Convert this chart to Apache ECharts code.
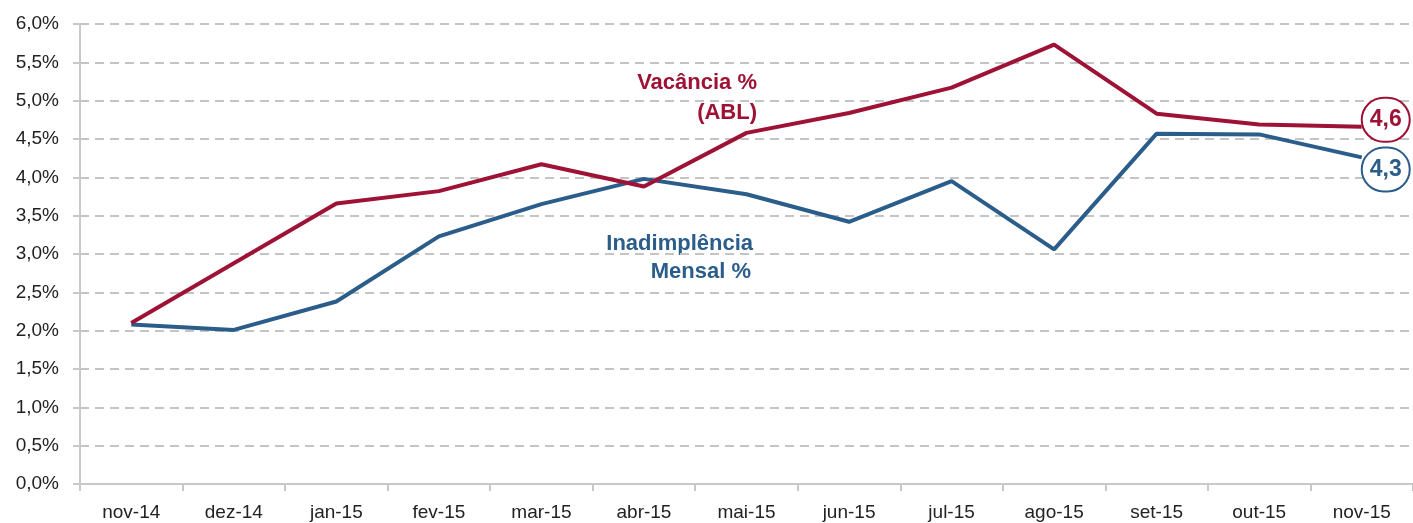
<!DOCTYPE html>
<html>
<head>
<meta charset="utf-8">
<script src="https://cdn.jsdelivr.net/npm/echarts@6/dist/echarts.min.js"></script>
<style>
  html, body { margin: 0; padding: 0; background: #fff; }
  #chart { width: 1413px; height: 523px; }
</style>
</head>
<body>
<div id="chart"></div>
<script>
var red = '#9e1235';
var blue = '#2b5d8b';

var months = ['nov-14', 'dez-14', 'jan-15', 'fev-15', 'mar-15', 'abr-15', 'mai-15',
  'jun-15', 'jul-15', 'ago-15', 'set-15', 'out-15', 'nov-15'];
var vacancia = [2.10, 2.88, 3.66, 3.82, 4.17, 3.88, 4.58, 4.84, 5.17, 5.73, 4.83, 4.69, 4.66];
var inadimplencia = [2.08, 2.01, 2.38, 3.23, 3.65, 3.98, 3.78, 3.42, 3.95, 3.06, 4.57, 4.56, 4.26];
var endLabels = ['4,6', '4,3'];

var font = 'Liberation Sans, Arial, sans-serif';

function endBubble(color, text, dy) {
  return {
    show: true,
    distance: 0,
    offset: [24, dy],
    formatter: text,
    color: color,
    fontSize: 23,
    fontWeight: 'bold',
    fontFamily: font,
    backgroundColor: '#fff',
    borderColor: color,
    borderWidth: 2,
    borderRadius: 24,
    width: 46,
    height: 42,
    align: 'center',
    verticalAlign: 'middle',
    lineHeight: 42
  };
}

var chart = echarts.init(document.getElementById('chart'));
chart.setOption({
  animation: false,
  textStyle: { fontFamily: font },
  grid: { left: 80, top: 24, width: 1335, bottom: 39 },
  xAxis: {
    type: 'category',
    data: months,
    boundaryGap: true,
    axisLine: { lineStyle: { color: '#c8c8c8', width: 2 } },
    axisTick: { show: true, length: 7, lineStyle: { color: '#c8c8c8', width: 2 } },
    axisLabel: { color: '#222', fontSize: 19, margin: 19 }
  },
  yAxis: {
    type: 'value',
    min: 0,
    max: 6,
    interval: 0.5,
    axisLine: { show: true, lineStyle: { color: '#c8c8c8', width: 2 } },
    axisTick: { show: true, length: 7, lineStyle: { color: '#c8c8c8', width: 2 } },
    splitLine: { lineStyle: { color: '#c4c4c4', width: 2, type: [9, 6] } },
    axisLabel: {
      color: '#222',
      fontSize: 19,
      margin: 21,
      formatter: function (v) { return v.toFixed(1).replace('.', ',') + '%'; }
    }
  },
  series: [
    {
      name: 'Vacância % (ABL)',
      type: 'line',
      data: vacancia,
      showSymbol: false,
      symbol: 'none',
      lineStyle: { color: red, width: 4 },
      endLabel: endBubble(red, endLabels[0], -7),
      z: 3
    },
    {
      name: 'Inadimplência Mensal %',
      type: 'line',
      data: inadimplencia,
      showSymbol: false,
      symbol: 'none',
      lineStyle: { color: blue, width: 4 },
      endLabel: endBubble(blue, endLabels[1], 12),
      z: 2
    }
  ],
  graphic: [
    {
      type: 'text', right: 1413 - 757, top: 72,
      style: { text: 'Vacância %', fill: red, font: 'bold 22px ' + font }
    },
    {
      type: 'text', right: 1413 - 757, top: 102,
      style: { text: '(ABL)', fill: red, font: 'bold 22px ' + font }
    },
    {
      type: 'text', right: 1413 - 753, top: 233,
      style: { text: 'Inadimplência', fill: blue, font: 'bold 22px ' + font }
    },
    {
      type: 'text', right: 1413 - 751, top: 261,
      style: { text: 'Mensal %', fill: blue, font: 'bold 22px ' + font }
    }
  ]
});
</script>
</body>
</html>
